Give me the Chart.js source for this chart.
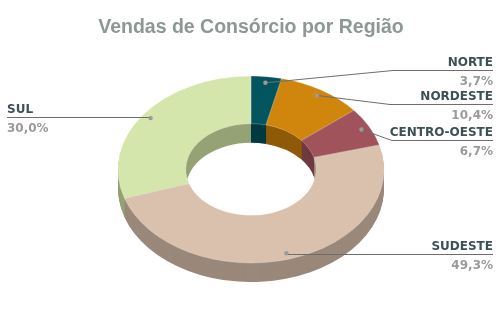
<!DOCTYPE html>
<html>
<head>
<meta charset="utf-8">
<script src="https://cdn.jsdelivr.net/npm/chart.js"></script>
<style>
  html, body { margin: 0; padding: 0; background: #fff; }
  #wrap { width: 500px; height: 315px; }
</style>
</head>
<body>
<div id="wrap"><canvas id="grafico" width="500" height="315"></canvas></div>
<script>
// dados
const regioes = ["NORTE", "NORDESTE", "CENTRO-OESTE", "SUDESTE", "SUL"];
const valores = [3.7, 10.4, 6.7, 49.3, 30.0];
const rotulos = ["3,7%", "10,4%", "6,7%", "49,3%", "30,0%"];
const coresTopo = ["#02555e", "#d0860c", "#a1535c", "#d9c1ae", "#d4e6ac"];
const coresLado = ["#003a40", "#8f5a08", "#6f3940", "#9a887a", "#95a275"];

// geometria do "3D"
const CENTRO_Y = 169.5;   // centro da face de cima
const ESCALA_Y = 0.703;   // achatamento da elipse
const PROFUND = 19;       // altura da parede

// posicao dos rotulos (x, y do nome, alinhamento, y da linha)
const posRotulos = [
  { x: 493, y: 63, lado: "right", linhaY: 70, quebraX: 393 },
  { x: 493, y: 96.5, lado: "right", linhaY: 104, quebraX: 390 },
  { x: 493, y: 133, lado: "right", linhaY: 140, quebraX: 392 },
  { x: 493, y: 247, lado: "right", linhaY: 254, quebraX: null },
  { x: 7, y: 110, lado: "left", linhaY: 117, quebraX: null }
];

function transformar(ctx, arc) {
  ctx.translate(0, CENTRO_Y);
  ctx.scale(1, ESCALA_Y);
  ctx.translate(0, -arc.y);
}

function caminhoArco(ctx, a) {
  ctx.beginPath();
  ctx.arc(a.x, a.y, a.outerRadius, a.startAngle, a.endAngle);
  ctx.arc(a.x, a.y, a.innerRadius, a.endAngle, a.startAngle, true);
  ctx.closePath();
}

// ponto do segmento na tela (frac 0 = borda interna, 1 = externa)
function pontoMedio(a, frac) {
  const ang = (a.startAngle + a.endAngle) / 2;
  const r = a.innerRadius + (a.outerRadius - a.innerRadius) * frac;
  return {
    x: a.x + Math.cos(ang) * r,
    y: CENTRO_Y + Math.sin(ang) * r * ESCALA_Y
  };
}

const rosca3d = {
  id: "rosca3d",
  beforeDatasetsDraw(chart) {
    const ctx = chart.ctx;
    const arcos = chart.getDatasetMeta(0).data;
    // paredes: varias camadas deslocadas para baixo
    for (let d = PROFUND; d >= 1; d--) {
      ctx.save();
      ctx.translate(0, d);
      transformar(ctx, arcos[0]);
      arcos.forEach((a, i) => {
        caminhoArco(ctx, a);
        ctx.fillStyle = coresLado[i];
        ctx.fill();
      });
      ctx.restore();
    }
    ctx.save();
    transformar(ctx, arcos[0]);
  },
  afterDatasetsDraw(chart) {
    const ctx = chart.ctx;
    ctx.restore();
    const arcos = chart.getDatasetMeta(0).data;

    arcos.forEach((a, i) => {
      const p = pontoMedio(a, 0.87);
      const pos = posRotulos[i];
      // linha de chamada
      ctx.save();
      ctx.strokeStyle = "#6e6e6e";
      ctx.lineWidth = 1;
      ctx.beginPath();
      ctx.moveTo(p.x, p.y);
      if (pos.quebraX) ctx.lineTo(pos.quebraX, pos.linhaY + 0.5);
      else ctx.lineTo(p.x, pos.linhaY + 0.5);
      ctx.lineTo(pos.x, pos.linhaY + 0.5);
      ctx.stroke();
      ctx.fillStyle = "#9a9a9a";
      ctx.beginPath();
      ctx.arc(p.x, p.y, 2.2, 0, Math.PI * 2);
      ctx.fill();

      // textos
      ctx.textAlign = pos.lado;
      ctx.textBaseline = "middle";
      ctx.font = "bold 12px 'DejaVu Sans'";
      ctx.fillStyle = "#3d5055";
      ctx.fillText(regioes[i], pos.x, pos.y);
      ctx.fillStyle = "#9a9a9a";
      ctx.fillText(rotulos[i], pos.x, pos.y + 19);
      ctx.restore();
    });
  }
};

new Chart(document.getElementById("grafico"), {
  type: "doughnut",
  data: {
    labels: regioes,
    datasets: [{
      data: valores,
      backgroundColor: coresTopo,
      borderColor: "rgba(255,255,255,0.35)",
      borderWidth: 0.8
    }]
  },
  options: {
    responsive: false,
    animation: false,
    radius: 133,
    cutout: "49%",
    rotation: 0,
    layout: { padding: { left: 2 } },
    plugins: {
      legend: { display: false },
      tooltip: { enabled: false },
      title: {
        display: true,
        text: "Vendas de Consórcio por Região",
        color: "#8c9893",
        font: { family: "'Liberation Sans', Arial, sans-serif", size: 19.5, weight: "bold" },
        padding: { top: 16, bottom: 0 }
      }
    }
  },
  plugins: [rosca3d]
});
</script>
</body>
</html>
